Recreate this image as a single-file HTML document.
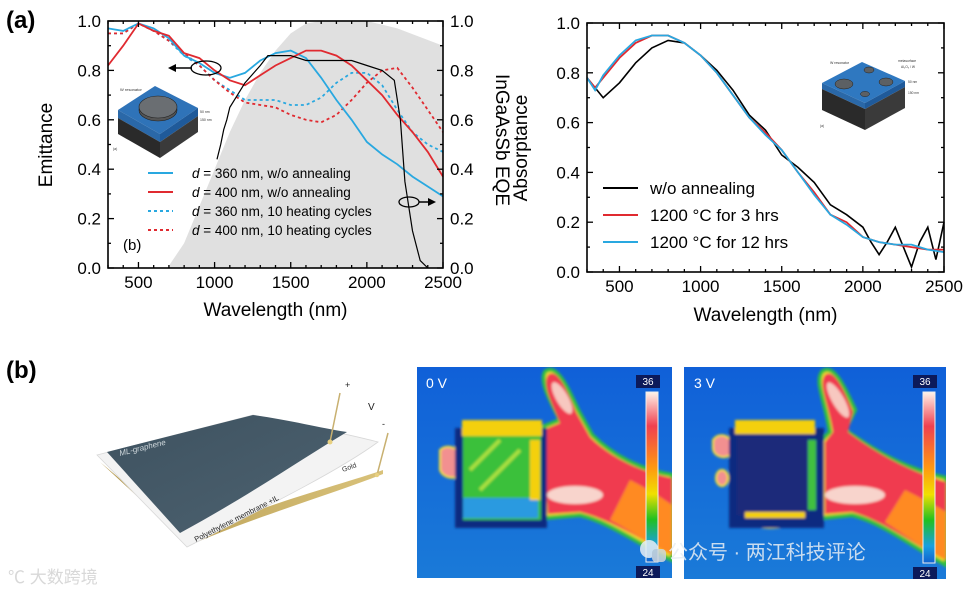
<!DOCTYPE html>
<html><head><meta charset="utf-8">
<style>
html,body{margin:0;padding:0;background:#fff;}
body{width:968px;height:591px;overflow:hidden;font-family:"Liberation Sans","Noto Sans CJK SC",sans-serif;}
svg text{font-family:"Liberation Sans","Noto Sans CJK SC",sans-serif;}
</style></head>
<body>
<svg id="fig" width="968" height="591" viewBox="0 0 968 591" xmlns="http://www.w3.org/2000/svg">
<defs>
  <filter id="blur2" x="-5%" y="-5%" width="110%" height="110%"><feGaussianBlur stdDeviation="1.2"/></filter>
  <clipPath id="clip1"><rect x="417" y="367" width="255" height="211"/></clipPath>
  <clipPath id="clip2"><rect x="684" y="367" width="262" height="212"/></clipPath>
  <linearGradient id="cbar" x1="0" y1="0" x2="0" y2="1">
    <stop offset="0" stop-color="#fff4ea"/><stop offset="0.2" stop-color="#f04050"/>
    <stop offset="0.45" stop-color="#ff9a10"/><stop offset="0.6" stop-color="#f0e000"/>
    <stop offset="0.75" stop-color="#20c020"/><stop offset="0.9" stop-color="#1aa0e0"/>
    <stop offset="1" stop-color="#1060d0"/>
  </linearGradient>
  <linearGradient id="bg1" x1="0" y1="0" x2="0" y2="1">
    <stop offset="0" stop-color="#1060d8"/><stop offset="1" stop-color="#1a7ad8"/>
  </linearGradient>
  <linearGradient id="darksheet" x1="0" y1="0" x2="1" y2="1">
    <stop offset="0" stop-color="#3e5260"/><stop offset="1" stop-color="#4d6270"/>
  </linearGradient>
  <linearGradient id="gold" x1="0" y1="0" x2="1" y2="0">
    <stop offset="0" stop-color="#b59a50"/><stop offset="1" stop-color="#d9c27a"/>
  </linearGradient>
</defs>

<text x="6" y="28" font-size="24" font-weight="bold">(a)</text>
<text x="6" y="378" font-size="24" font-weight="bold">(b)</text>

<g id="leftChart"></g>
<g id="rightChart"></g>

<g>
  <polygon points="118,110 155,86 198,108 160,134" fill="#2f73b8"/>
  <polygon points="118,110 160,134 160,142 118,118" fill="#2a68a8"/>
  <polygon points="160,134 198,108 198,116 160,142" fill="#1f5a9a"/>
  <polygon points="118,118 160,142 160,158 118,134" fill="#2a2a2a"/>
  <polygon points="160,142 198,116 198,132 160,158" fill="#3a3a3a"/>
  <ellipse cx="158" cy="110" rx="19" ry="11" fill="#555" stroke="#222" stroke-width="0.6"/>
  <ellipse cx="158" cy="107" rx="19" ry="11" fill="#6a6e72" stroke="#222" stroke-width="0.6"/>
  <text x="120" y="91" font-size="4" fill="#333">W resonator</text>
  <text x="200" y="113" font-size="3.5" fill="#333">50 nm</text>
  <text x="200" y="121" font-size="3.5" fill="#333">150 nm</text>
  <text x="113" y="150" font-size="3.5" fill="#333">(a)</text>
</g>
<g>
  <polygon points="822,83 862,62 905,81 865,103" fill="#2f78c0"/>
  <polygon points="822,83 865,103 865,109 822,89" fill="#2a68a8"/>
  <polygon points="865,103 905,81 905,87 865,109" fill="#1f5a9a"/>
  <polygon points="822,89 865,109 865,130 822,110" fill="#2a2a2a"/>
  <polygon points="865,109 905,87 905,108 865,130" fill="#3a3a3a"/>
  <ellipse cx="844" cy="84" rx="9" ry="5" fill="#5c6064" stroke="#222" stroke-width="0.5"/>
  <ellipse cx="869" cy="70" rx="5" ry="3" fill="#5c6064" stroke="#222" stroke-width="0.5"/>
  <ellipse cx="886" cy="82" rx="7" ry="4" fill="#5c6064" stroke="#222" stroke-width="0.5"/>
  <ellipse cx="865" cy="94" rx="4.5" ry="2.6" fill="#5c6064" stroke="#222" stroke-width="0.5"/>
  <text x="830" y="64" font-size="3.5" fill="#333">W resonator</text>
  <text x="898" y="62" font-size="3.3" fill="#333">metasurface</text>
  <text x="901" y="68" font-size="3.3" fill="#333">Al₂O₃ / W</text>
  <text x="908" y="83" font-size="3.3" fill="#333">50 nm</text>
  <text x="908" y="94" font-size="3.3" fill="#333">150 nm</text>
  <text x="820" y="127" font-size="3.3" fill="#333">(a)</text>
</g>

<g>
  <path d="M100,462 L190,545 C260,515 330,495 383,474 L383,470 C330,488 260,505 190,538 Z" fill="url(#gold)"/>
  <path d="M97,455 L253,415 C300,425 340,432 378,442 C340,470 270,505 187,547 Z" fill="#f3f3f3" stroke="#d8d8d8" stroke-width="0.8"/>
  <path d="M107,452 L253,415 C290,420 320,428 347,432 C300,460 250,495 180,533 Z" fill="url(#darksheet)"/>
  <text x="120" y="456" font-size="8" font-style="italic" fill="#d0d8dc" transform="rotate(-14 120 456)">ML-graphene</text>
  <text x="196" y="542" font-size="7.5" fill="#222" transform="rotate(-27 196 542)">Polyethylene membrane +IL</text>
  <text x="343" y="472" font-size="7" fill="#333" transform="rotate(-20 343 472)">Gold</text>
  <line x1="330" y1="442" x2="340" y2="393" stroke="#c8b070" stroke-width="1.5"/>
  <circle cx="330" cy="442" r="2.5" fill="#e8d080"/>
  <line x1="377" y1="475" x2="388" y2="433" stroke="#c8b070" stroke-width="1.5"/>
  <circle cx="377" cy="475" r="2.2" fill="#e8d080"/>
  <text x="345" y="388" font-size="9" fill="#222">+</text>
  <text x="368" y="410" font-size="10" fill="#222">V</text>
  <text x="382" y="427" font-size="9" fill="#222">-</text>
</g>

<g>
  <rect x="417" y="367" width="255" height="211" fill="url(#bg1)"/>
  <g clip-path="url(#clip1)"><g filter="url(#blur2)">
    <path d="M545,372 C556,362 568,388 578,410 L592,435 C612,455 640,470 672,475 L672,560 C640,545 610,522 580,515 L545,518 L541,440 L520,440 L535,430 L560,420 C550,400 540,382 545,372 Z" fill="#f4e020" stroke="#30c040" stroke-width="4"/>
    <path d="M548,375 C557,367 567,390 576,412 L590,437 C610,457 640,472 672,478 L672,555 C645,542 612,520 580,512 L548,514 L544,442 L524,441 L538,432 L560,423 C551,402 542,384 548,375 Z" fill="#f03a50"/>
    <path d="M630,480 C650,490 665,500 672,505 L672,555 C650,545 630,530 610,520 Z" fill="#ff8a20"/>
    <ellipse cx="562" cy="398" rx="6" ry="18" fill="#f7c8c0" transform="rotate(-30 562 398)"/>
    <ellipse cx="575" cy="495" rx="28" ry="9" fill="#f8d4cc"/>
    <path d="M440,450 C445,445 455,446 458,452 L460,475 C455,480 443,478 440,470 Z" fill="#f29090" stroke="#f4e020" stroke-width="2"/>
    <rect x="455" y="428" width="92" height="100" fill="#0c2a80"/>
    <rect x="463" y="435" width="78" height="85" fill="#3bc03a"/>
    <rect x="462" y="420" width="80" height="16" fill="#f4d010"/>
    <rect x="463" y="498" width="75" height="20" fill="#2a9ae0"/>
    <rect x="530" y="440" width="10" height="60" fill="#f4d010"/>
    <path d="M470,470 L500,440 M480,490 L520,450" stroke="#a8e040" stroke-width="4"/>
  </g></g>
  <rect x="636" y="375" width="24" height="13" fill="#0c1a5a"/>
  <text x="648" y="385" font-size="10" fill="#fff" text-anchor="middle">36</text>
  <rect x="646" y="392" width="12" height="170" fill="url(#cbar)" stroke="#eee" stroke-width="1"/>
  <rect x="636" y="566" width="24" height="12" fill="#0c1a5a"/>
  <text x="648" y="576" font-size="10" fill="#fff" text-anchor="middle">24</text>
  <text x="426" y="388" font-size="14" fill="#fff">0 V</text>
</g>

<g>
  <rect x="684" y="367" width="262" height="212" fill="url(#bg1)"/>
  <g clip-path="url(#clip2)"><g filter="url(#blur2)">
    <path d="M822,372 C833,362 845,388 855,410 L845,430 C880,455 910,470 946,478 L946,565 C915,548 882,522 852,515 L822,518 L822,440 L830,432 C825,400 815,382 822,372 Z" fill="#f4e020" stroke="#30c040" stroke-width="4"/>
    <path d="M825,375 C834,367 845,392 853,412 L848,432 C882,457 912,472 946,482 L946,560 C915,545 882,520 852,512 L825,514 L825,442 L833,432 C828,402 818,384 825,375 Z" fill="#f03a50"/>
    <path d="M905,490 C925,500 940,508 946,512 L946,560 C925,550 905,535 885,522 Z" fill="#ff8a20"/>
    <ellipse cx="838" cy="400" rx="6" ry="20" fill="#f7c8c0" transform="rotate(-30 838 400)"/>
    <ellipse cx="855" cy="495" rx="30" ry="9" fill="#f8d4cc"/>
    <path d="M713,440 C718,433 728,434 731,442 L730,455 C722,460 713,455 713,448 Z" fill="#f29090" stroke="#f4e020" stroke-width="2"/>
    <ellipse cx="722" cy="478" rx="6" ry="8" fill="#f29090" stroke="#f4e020" stroke-width="2"/>
    <path d="M755,520 C770,515 790,515 800,520 C790,528 765,530 755,525 Z" fill="#f29090" stroke="#f4e020" stroke-width="2"/>
    <rect x="729" y="428" width="95" height="100" fill="#0c2a80"/>
    <rect x="735" y="420" width="80" height="14" fill="#f4d010"/>
    <rect x="737" y="437" width="72" height="78" fill="#1a2a7a"/>
    <rect x="808" y="440" width="8" height="70" fill="#40c040"/>
    <rect x="745" y="512" width="60" height="6" fill="#f4d010"/>
  </g></g>
  <rect x="913" y="375" width="24" height="13" fill="#0c1a5a"/>
  <text x="925" y="385" font-size="10" fill="#fff" text-anchor="middle">36</text>
  <rect x="923" y="392" width="12" height="171" fill="url(#cbar)" stroke="#eee" stroke-width="1"/>
  <rect x="913" y="567" width="24" height="12" fill="#0c1a5a"/>
  <text x="925" y="577" font-size="10" fill="#fff" text-anchor="middle">24</text>
  <text x="694" y="388" font-size="14" fill="#fff">3 V</text>
</g>

<g opacity="0.85">
  <circle cx="649" cy="549" r="9" fill="#e8eef4"/>
  <rect x="652" y="549" width="14" height="13" rx="4" fill="#d0d6dc"/>
  <text x="668" y="559" font-size="20" fill="#e8eef4">公众号 · 两江科技评论</text>
</g>
<text x="8" y="583" font-size="17" fill="#d8d8d8">℃ 大数跨境</text>
</svg>

<script>
// ===== LEFT CHART DATA =====
const lWave = [300,400,500,600,700,800,900,1000,1100,1200,1300,1400,1500,1600,1700,1800,1900,2000,2100,2200,2300,2400,2500];
const lBlueSolid = [0.97,0.96,0.99,0.97,0.93,0.86,0.83,0.79,0.77,0.79,0.84,0.87,0.88,0.85,0.77,0.68,0.60,0.51,0.46,0.42,0.37,0.33,0.29];
const lRedSolid  = [0.82,0.90,0.99,0.96,0.94,0.87,0.85,0.80,0.76,0.74,0.78,0.82,0.85,0.88,0.88,0.86,0.82,0.76,0.70,0.62,0.55,0.47,0.37];
const lBlueDash  = [0.95,0.95,0.99,0.96,0.92,0.86,0.82,0.76,0.72,0.68,0.68,0.68,0.66,0.66,0.69,0.75,0.79,0.79,0.74,0.64,0.55,0.50,0.47];
const lRedDash   = [0.95,0.95,0.99,0.96,0.92,0.87,0.82,0.76,0.71,0.67,0.66,0.65,0.62,0.60,0.59,0.62,0.68,0.75,0.80,0.81,0.73,0.64,0.55];
const eqeWave = [1016,1040,1060,1080,1100,1200,1300,1350,1500,1600,1700,1900,2000,2100,2180,2220,2250,2300,2350,2400];
const eqeVal  = [0.44,0.50,0.56,0.60,0.65,0.75,0.82,0.86,0.86,0.84,0.84,0.84,0.82,0.80,0.76,0.60,0.35,0.15,0.03,0.00];
const absWave = [690,800,900,1000,1100,1200,1300,1400,1500,1600,1700,2000,2200,2500];
const absVal  = [0.00,0.10,0.25,0.40,0.55,0.68,0.79,0.88,0.95,0.99,1.00,1.00,0.97,0.90];
const xTicks = [500,1000,1500,2000,2500];
const yTicks = [0.0,0.2,0.4,0.6,0.8,1.0];
const lLegend = ["d = 360 nm, w/o annealing","d = 400 nm, w/o annealing","d = 360 nm, 10 heating cycles","d = 400 nm, 10 heating cycles"];

// ===== RIGHT CHART DATA =====
const rWave = [300,350,400,500,600,700,800,900,1000,1100,1200,1300,1400,1500,1600,1700,1800,1900,2000,2100,2200,2300,2400,2500];
const rRed  = [0.78,0.74,0.78,0.86,0.92,0.95,0.95,0.92,0.87,0.80,0.71,0.62,0.56,0.49,0.40,0.32,0.23,0.20,0.14,0.12,0.11,0.10,0.09,0.09];
const rBlue = [0.78,0.73,0.79,0.87,0.93,0.95,0.95,0.92,0.87,0.80,0.71,0.62,0.55,0.49,0.40,0.31,0.23,0.19,0.14,0.12,0.11,0.11,0.09,0.08];
const rBlackWave = [300,400,500,600,700,800,900,1000,1100,1200,1300,1400,1500,1600,1700,1800,1900,2000,2050,2100,2150,2200,2250,2300,2350,2400,2450,2500];
const rBlack = [0.78,0.70,0.76,0.84,0.90,0.93,0.92,0.87,0.81,0.73,0.63,0.57,0.47,0.42,0.36,0.27,0.23,0.18,0.12,0.07,0.12,0.18,0.10,0.02,0.12,0.18,0.05,0.20];
const rLegend = ["w/o annealing","1200 °C for 3 hrs","1200 °C for 12 hrs"];

const NS = "http://www.w3.org/2000/svg";
function mk(parent, tag, attrs){ const e=document.createElementNS(NS,tag); for(const k in attrs) e.setAttribute(k,attrs[k]); parent.appendChild(e); return e; }
function axisFns(x0,x1,y0,y1){ return { x: w => x0 + (w-300)/2200*(x1-x0), y: v => y1 - v*(y1-y0) }; }
function pathD(ws, vs, ax){ return ws.map((w,i)=>(i?"L":"M")+ax.x(w).toFixed(1)+","+ax.y(vs[i]).toFixed(1)).join(" "); }

function drawFrame(g, ax, x0,x1,y0,y1, rightTicks){
  for(let w=300; w<=2500; w+=100){
    const len = (w%500===0)?6:3;
    mk(g,"line",{x1:ax.x(w),x2:ax.x(w),y1:y1,y2:y1-len,stroke:"#000","stroke-width":1.3});
    mk(g,"line",{x1:ax.x(w),x2:ax.x(w),y1:y0,y2:y0+len,stroke:"#000","stroke-width":1.3});
  }
  for(let v=0; v<=1.0001; v+=0.1){
    const len = (Math.round(v*10)%2===0)?6:3;
    mk(g,"line",{x1:x0,x2:x0+len,y1:ax.y(v),y2:ax.y(v),stroke:"#000","stroke-width":1.3});
    mk(g,"line",{x1:x1,x2:x1-len,y1:ax.y(v),y2:ax.y(v),stroke:"#000","stroke-width":1.3});
  }
  mk(g,"rect",{x:x0,y:y0,width:x1-x0,height:y1-y0,fill:"none",stroke:"#000","stroke-width":1.6});
  xTicks.forEach(w=>{
    const t=mk(g,"text",{x:ax.x(w),y:y1+20,"font-size":17,"text-anchor":"middle"}); t.textContent=w;
    
    
  });
  yTicks.forEach(v=>{
    const t=mk(g,"text",{x:x0-7,y:ax.y(v)+6,"font-size":17,"text-anchor":"end"}); t.textContent=v.toFixed(1);
    
    
    if(rightTicks){
      const r=mk(g,"text",{x:x1+7,y:ax.y(v)+6,"font-size":17}); r.textContent=v.toFixed(1);
      
      
    }
  });
}

(function(){
  const g=document.getElementById("leftChart");
  const x0=108,x1=443,y0=21,y1=268; const ax=axisFns(x0,x1,y0,y1);
  let d = pathD(absWave,absVal,ax)+" L"+ax.x(2500)+","+y1+" L"+ax.x(absWave[0])+","+y1+" Z";
  let a=mk(g,"path",{d:d,fill:"#e0e0e0"});
  
  
  const series=[[lBlueDash,"#29a8e0","3,3","blue-dashed-line"],[lRedDash,"#e02a30","3,3","red-dashed-line"],[lBlueSolid,"#29a8e0","","blue-solid-line"],[lRedSolid,"#e02a30","","red-solid-line"]];
  series.forEach(s=>{
    const p=mk(g,"path",{d:pathD(lWave,s[0],ax),fill:"none",stroke:s[1],"stroke-width":1.8,"stroke-dasharray":s[2]});
    
    
  });
  const e=mk(g,"path",{d:pathD(eqeWave,eqeVal,ax),fill:"none",stroke:"#000","stroke-width":1.2});
  
  
  drawFrame(g,ax,x0,x1,y0,y1,true);
  mk(g,"ellipse",{cx:206,cy:68,rx:15,ry:7,fill:"none",stroke:"#000","stroke-width":1.3});
  mk(g,"line",{x1:192,y1:68,x2:172,y2:68,stroke:"#000","stroke-width":1.5});
  mk(g,"path",{d:"M168,68 L176,64 L176,72 Z",fill:"#000"});
  mk(g,"ellipse",{cx:409,cy:202,rx:10,ry:5,fill:"none",stroke:"#000","stroke-width":1.3});
  mk(g,"line",{x1:419,y1:202,x2:431,y2:202,stroke:"#000","stroke-width":1.5});
  mk(g,"path",{d:"M436,202 L428,198 L428,206 Z",fill:"#000"});
  const cols=[["#29a8e0",""],["#e02a30",""],["#29a8e0","3,3"],["#e02a30","3,3"]];
  lLegend.forEach((txt,i)=>{
    const y=173+i*19;
    const l=mk(g,"line",{x1:148,x2:173,y1:y,y2:y,stroke:cols[i][0],"stroke-width":2,"stroke-dasharray":cols[i][1]});
    
    
    const t=mk(g,"text",{x:192,y:y+5,"font-size":13.5});
    t.innerHTML='<tspan font-style="italic">d</tspan>'+txt.slice(1);
    
    
  });
  let b=mk(g,"text",{x:123,y:250,"font-size":15}); b.textContent="(b)";
  
  
  let xt=mk(g,"text",{x:(x0+x1)/2,y:316,"font-size":19,"text-anchor":"middle"}); xt.textContent="Wavelength (nm)";
  
  
  let yt=mk(g,"text",{x:0,y:0,"font-size":19,"text-anchor":"middle",transform:"translate(52,145) rotate(-90)"}); yt.textContent="Emittance";
  
  
  let y2=mk(g,"text",{x:0,y:0,"font-size":19,"text-anchor":"middle",transform:"translate(496,140) rotate(90)"}); y2.textContent="InGaAsSb EQE";
  
  
})();

(function(){
  const g=document.getElementById("rightChart");
  const x0=587,x1=944,y0=23,y1=272; const ax=axisFns(x0,x1,y0,y1);
  let k=mk(g,"path",{d:pathD(rBlackWave,rBlack,ax),fill:"none",stroke:"#000","stroke-width":1.6});
  
  
  let r=mk(g,"path",{d:pathD(rWave,rRed,ax),fill:"none",stroke:"#e02a30","stroke-width":1.8});
  
  
  let bl=mk(g,"path",{d:pathD(rWave,rBlue,ax),fill:"none",stroke:"#29a8e0","stroke-width":1.8});
  
  
  drawFrame(g,ax,x0,x1,y0,y1,false);
  const cols=["#000","#e02a30","#29a8e0"];
  rLegend.forEach((txt,i)=>{
    const y=188+i*27;
    const l=mk(g,"line",{x1:603,x2:638,y1:y,y2:y,stroke:cols[i],"stroke-width":2});
    
    
    const t=mk(g,"text",{x:650,y:y+6,"font-size":17}); t.textContent=txt;
    
    
  });
  let xt=mk(g,"text",{x:(x0+x1)/2,y:321,"font-size":19,"text-anchor":"middle"}); xt.textContent="Wavelength (nm)";
  
  
  let yt=mk(g,"text",{x:0,y:0,"font-size":19,"text-anchor":"middle",transform:"translate(527,148) rotate(-90)"}); yt.textContent="Absorptance";
  
  
})();
</script>
</body></html>
